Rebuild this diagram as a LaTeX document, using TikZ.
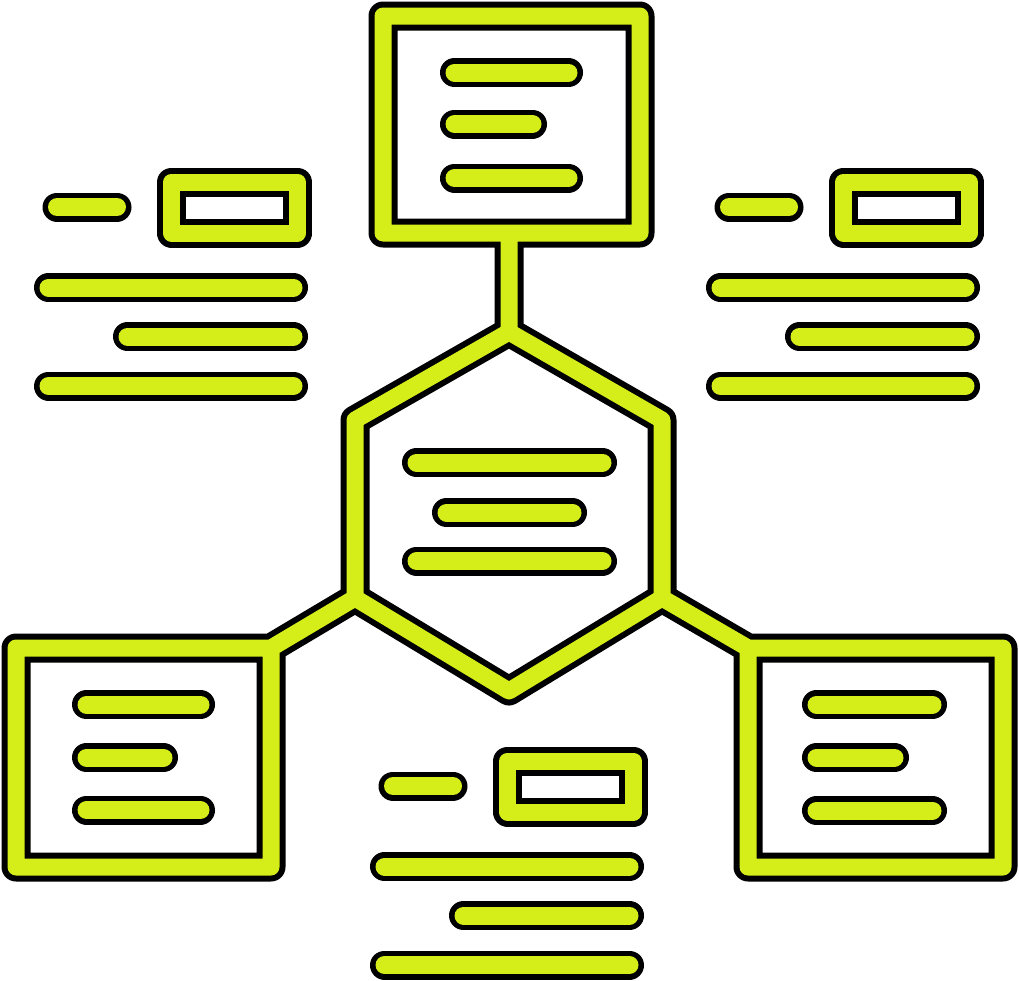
\documentclass[tikz,border=0pt]{standalone}
\definecolor{limey}{RGB}{213,237,25}
% one "text" group: small pill, small frame, three bars (local coords of the top-left group)
\newcommand\txtgroup{%
  \draw[fw] (171.5,182) rectangle (297.5,233);
  \draw[bw] (57,207) -- (117,207)
            (48.5,287.5) -- (293.5,287.5)
            (127.5,336.5) -- (293.5,336.5)
            (48.5,386) -- (293.5,386);}
\newcommand\iconlayer[3]{%
  \begin{scope}[draw=#3, line join=round, line cap=round,
                fw/.style={line width=#1}, bw/.style={line width=#2}]
    % frames and connectors
    \draw[fw] (383,16) rectangle (640,233)
      (509,233) -- (509,332)
      (509,332) -- (355,420) -- (355,598) -- (509,691) -- (662,598) -- (662,420) -- cycle
      (355,598) -- (271,648)
      (662,598) -- (748,648)
      (16,648) rectangle (271,867)
      (748,648) rectangle (1003,867);
    % bars in top box
    \draw[bw] (454.5,72.5) -- (568.5,72.5)
              (454.5,124) -- (532.5,124)
              (454.5,178) -- (568.5,178);
    % bars in hexagon
    \draw[bw] (416.5,462.5) -- (602.5,462.5)
              (446.5,512.5) -- (572.5,512.5)
              (416.5,561) -- (602.5,561);
    % bars in left box
    \draw[bw] (86.5,704.5) -- (200.5,704.5)
              (86.5,757.5) -- (163.5,757.5)
              (86.5,810) -- (200.5,810);
    % bars in right box
    \draw[bw] (816.5,704.5) -- (932.5,704.5)
              (816.5,757.5) -- (894.5,757.5)
              (816.5,810.5) -- (932.5,810.5);
    % text groups
    \txtgroup
    \begin{scope}[shift={(672,0)}]\txtgroup\end{scope}
    \begin{scope}[shift={(336,579)}]\txtgroup\end{scope}
  \end{scope}}
\begin{document}
\begin{tikzpicture}[x=1pt,y=-1pt]
  \fill[white] (0,0) rectangle (1019,980);
  \useasboundingbox (0,0) rectangle (1019,980);
  \iconlayer{29pt}{29pt}{black}
  \iconlayer{17pt}{18pt}{limey}
\end{tikzpicture}
\end{document}
